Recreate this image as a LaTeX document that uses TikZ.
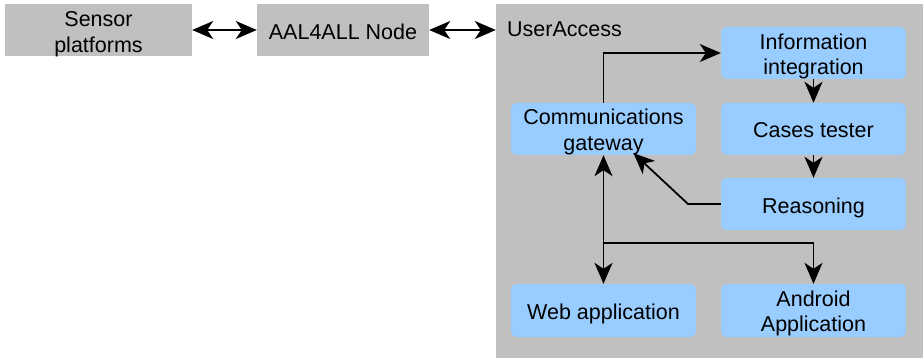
\documentclass[tikz,border=0pt]{standalone}
\usepackage{fontspec}
\setmainfont{Liberation Sans}
\usetikzlibrary{arrows.meta,calc}
\definecolor{boxgray}{HTML}{C0C0C0}
\definecolor{boxblue}{HTML}{99CCFF}
% text set a little lower than its box centre, keeping the box size
\newcommand{\lowtext}[2][4.5pt]{\raisebox{-#1}[\height][\depth]{\begin{tabular}{@{}c@{}}#2\end{tabular}}}
\begin{document}
\begin{tikzpicture}[x=1pt,y=-1pt,
  font=\fontsize{21.5}{25.5}\selectfont,
  graybox/.style={fill=boxgray,draw=none,minimum width=#1,minimum height=52pt,align=center,inner sep=0pt},
  bluebox/.style={fill=boxblue,draw=none,rounded corners=6pt,minimum width=185pt,minimum height=52pt,align=center,inner sep=0pt},
  tip/.tip={Stealth[length=21pt,width=18pt,inset=6pt]},
  link/.style={line width=1.8pt,-tip},
  dlink/.style={line width=1.8pt,tip-tip}]
\useasboundingbox (0,0) rectangle (923,358);
\fill[white] (0,0) rectangle (923,358);

% outer components
\node[graybox=187pt] (sensor) at (98.5,30) {\lowtext{Sensor\\platforms}};
\node[graybox=172pt] (aal) at (343,30) {\lowtext[4pt]{AAL4ALL Node}};
\node[fill=boxgray,minimum width=427pt,minimum height=354pt,inner sep=0pt] (ua) at (709.5,181) {};
\node[anchor=west,inner sep=0pt] (ualabel) at (507,29.5) {UserAccess};

% UserAccess modules
\node[bluebox] (info) at (813.5,53) {\lowtext[4pt]{Information\\integration}};
\node[bluebox] (cases) at (813.5,129) {\lowtext[3.5pt]{Cases tester}};
\node[bluebox] (reas) at (813.5,204) {\lowtext[4pt]{Reasoning}};
\node[bluebox] (comm) at (603.5,129) {\lowtext[3.5pt]{Communications\\gateway}};
\node[bluebox,minimum height=53pt] (web) at (603.5,310.5) {\lowtext[4pt]{Web application}};
\node[bluebox,minimum height=53pt] (andr) at (813.5,310.5) {\lowtext[3.5pt]{Android\\Application}};

% connectors
\draw[dlink] (sensor) -- (aal);
\draw[dlink] (aal.east) -- (aal.east -| ua.west);
\draw[link] (comm.north) |- (info.west);
\draw[link] (info) -- (cases);
\draw[link] (cases) -- (reas);
\coordinate (bend) at (688,204);
\draw[link] (reas.west) -- (bend) -- ([xshift=30pt,yshift=2pt]comm.south);
\draw[dlink] (comm.south) -- (web.north);
\coordinate (split) at (603.5,243);
\draw[link] (split) -| (andr.north);
\end{tikzpicture}
\end{document}
